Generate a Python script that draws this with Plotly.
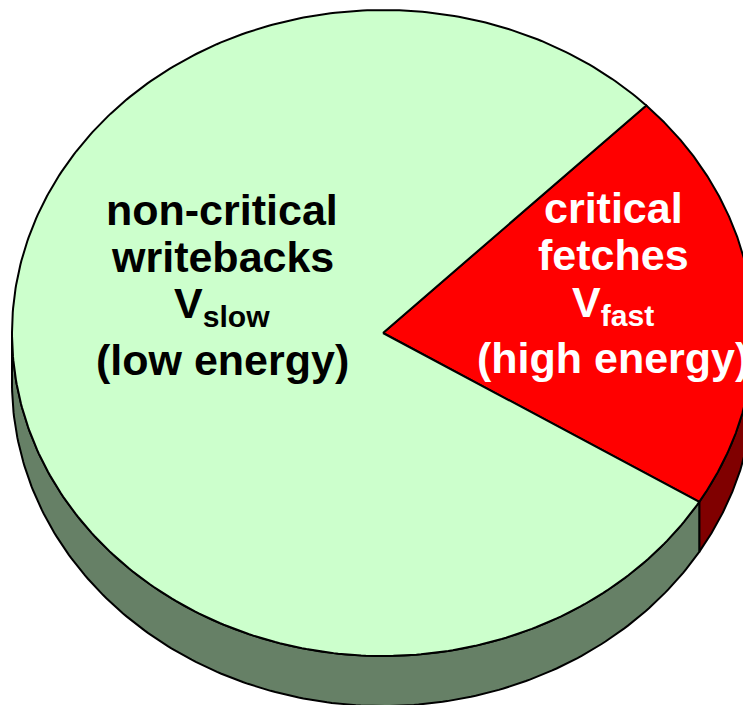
import numpy as np
import plotly.graph_objects as go

# pie data (percent of memory traffic), first slice drawn clockwise from the start angle
slices = ["critical fetches", "non-critical writebacks"]
shares = [21.2, 78.8]
top_colors = ["#FF0000", "#CCFFCC"]
side_colors = ["#800000", "#668066"]

# label text, one entry per line
label_lines = [
    ["critical", "fetches", "V<sub>fast</sub>", "(high energy)"],
    ["non-critical", "writebacks", "V<sub>slow</sub>", "(low energy)"],
]
label_colors = ["white", "black"]
label_x = [613, 222]
label_y = [[208, 255, 305, 358], [210, 257, 306, 360]]

# 3d pie geometry (pixel space)
start_angle = 44.8
cx, cy = 383, 333
rx, ry = 371, 323
depth = 50


def arc(a0, a1, n=200, dy=0):
    t = np.radians(np.linspace(a0, a1, n))
    return cx + rx * np.cos(t), cy - ry * np.sin(t) + dy


fig = go.Figure()

# slice angle ranges, clockwise
ranges = []
a = start_angle
for s in shares:
    ranges.append((a - s * 3.6, a))
    a -= s * 3.6

# side walls (front half only: angles in [-180, 0] mod 360)
for (lo, hi), col in zip(ranges, side_colors):
    for k in range(-2, 3):
        f_lo, f_hi = -180 + 360 * k, 360 * k
        l, h = max(lo, f_lo), min(hi, f_hi)
        if h <= l:
            continue
        xt, yt = arc(l, h)
        xb, yb = arc(h, l, dy=depth)
        xs = np.concatenate([xt, xb, xt[:1]])
        ys = np.concatenate([yt, yb, yt[:1]])
        fig.add_trace(go.Scatter(x=xs, y=ys, mode="lines", fill="toself",
                                 fillcolor=col, line=dict(color="black", width=2),
                                 hoverinfo="skip", showlegend=False))

# top faces
for (lo, hi), col, name in zip(ranges, top_colors, slices):
    xa, ya = arc(hi, lo, n=400)
    xs = np.concatenate([[cx], xa, [cx]])
    ys = np.concatenate([[cy], ya, [cy]])
    fig.add_trace(go.Scatter(x=xs, y=ys, mode="lines", fill="toself", name=name,
                             fillcolor=col, line=dict(color="black", width=2),
                             showlegend=False))

for lines, col, lx, lys in zip(label_lines, label_colors, label_x, label_y):
    for txt, ly in zip(lines, lys):
        fig.add_annotation(x=lx, y=ly, text="<b>" + txt + "</b>", showarrow=False,
                           xanchor="center", yanchor="middle",
                           font=dict(family="Arial, Liberation Sans", size=43, color=col))

fig.update_layout(
    width=743, height=705,
    margin=dict(l=0, r=0, t=0, b=0),
    paper_bgcolor="white", plot_bgcolor="white",
    xaxis=dict(range=[0, 743], visible=False, fixedrange=True),
    yaxis=dict(range=[705, 0], visible=False, fixedrange=True),
)

fig.write_html("out.html", config={"displayModeBar": False},
               post_script="document.body.style.margin='0';document.body.style.overflow='hidden';")
